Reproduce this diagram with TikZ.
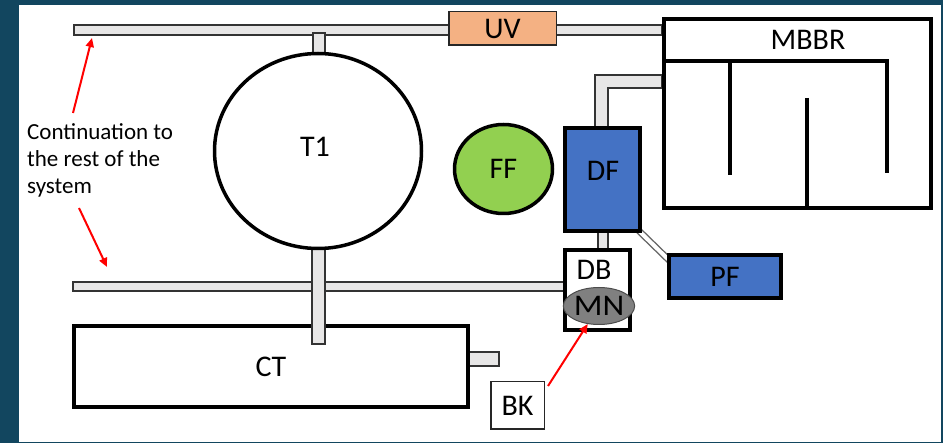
\documentclass[tikz,border=0pt]{standalone}
\usepackage{fontspec}
\setmainfont{Carlito}
\usetikzlibrary{shapes.geometric,arrows.meta}
\definecolor{bgdark}{HTML}{12465F}
\definecolor{uvorange}{HTML}{F4B183}
\definecolor{ffgreen}{HTML}{92D050}
\definecolor{dfblue}{HTML}{4472C4}
\definecolor{mngray}{HTML}{808080}
\definecolor{pipegray}{HTML}{E7E6E6}
\newcommand\lblfont{\fontsize{30}{36}\selectfont}
\newcommand\capfont{\fontsize{23}{27}\selectfont}
\begin{document}
\begin{tikzpicture}[x=1pt,y=-1pt,
  tank/.style={draw=black, line width=4pt, fill=white, inner sep=0pt, font=\lblfont},
  thinbox/.style={draw=black!85, line width=1.5pt, inner sep=0pt, font=\lblfont},
  lbl/.style={inner sep=0pt, font=\lblfont},
  pipe/.style={draw=black!80, fill=pipegray, line width=1.5pt},
  wall/.style={draw=black, line width=4pt},
  redarrow/.style={draw=red, line width=2pt, -{Triangle[length=9pt,width=8pt]}}]
% background and white canvas
\fill[bgdark] (0,0) rectangle (943,443);
\fill[white] (19,5) rectangle (941,442);
\useasboundingbox (0,0) rectangle (943,443);

% pipes behind the tanks
\draw[pipe] (74,25) rectangle (662,35);
\draw[pipe] (313,33) rectangle (325,60);
\draw[pipe] (73,282) rectangle (566,291);
\draw[pipe] (466,352) rectangle (499,366);
\draw[pipe] (595,128) -- (595,75) -- (662,75) -- (662,88) -- (608,88) -- (608,128) -- cycle;
\draw[pipe] (598,228) rectangle (608,252);
\draw[draw=black!60, line width=1.4pt, double=white, double distance=4pt] (636,228) -- (674,265);

% collection tank and its riser
\node[tank, minimum width=394pt, minimum height=81pt] (CT) at (271,366.5) {CT};
\draw[pipe] (312,240) rectangle (325,344);

% main tanks
\node[tank, shape=ellipse, line width=3.5pt, minimum width=207pt, minimum height=195pt] (T1) at (318,151) {};
\node[lbl] at (315,147) {T1};
\node[thinbox, fill=uvorange, minimum width=107.5pt, minimum height=33.5pt] (UV) at (502.5,28.5) {UV};
\node[tank, minimum width=267pt, minimum height=189pt] (MBBR) at (797.5,113.5) {};
\node[lbl] at (808,40) {MBBR};
\draw[wall] (662,61) -- (887,61) -- (887,173);
\draw[wall] (730,61) -- (730,175);
\draw[wall] (807,98) -- (807,210);

\node[tank, shape=ellipse, line width=3.5pt, fill=ffgreen, minimum width=98pt, minimum height=89pt] (FF) at (503.5,169) {FF};
\node[tank, fill=dfblue, minimum width=75pt, minimum height=103pt] (DF) at (602.5,179.5) {};
\node[lbl] at (603,171) {DF};
\node[tank, minimum width=65pt, minimum height=80pt] (DB) at (597.5,290) {};
\node[lbl] at (594,270) {DB};
\node[shape=ellipse, draw=black!70, line width=1pt, fill=mngray, inner sep=0pt, minimum width=55pt, minimum height=37pt, font=\lblfont] (MN) at (599,306) {\scalebox{1.12}[1]{MN}};
\node[tank, fill=dfblue, minimum width=112pt, minimum height=43pt] (PF) at (725,276.5) {PF};
\node[thinbox, fill=white, minimum width=53.5pt, minimum height=47.5pt] (BK) at (517.5,405.5) {BK};

% annotation
\node[inner sep=0pt, anchor=base west, align=left, font=\capfont] (note) at (27,194) {Continuation to\\the rest of the\\system};
\coordinate (a1s) at (73,113);
\coordinate (a1e) at (92,38);
\coordinate (a2s) at (79,208);
\coordinate (a2e) at (107,267);
\coordinate (a3s) at (548,386);
\draw[redarrow] (a1s) -- (a1e);
\draw[redarrow] (a2s) -- (a2e);
\draw[redarrow] (a3s) -- (MN.238);
\end{tikzpicture}
\end{document}
